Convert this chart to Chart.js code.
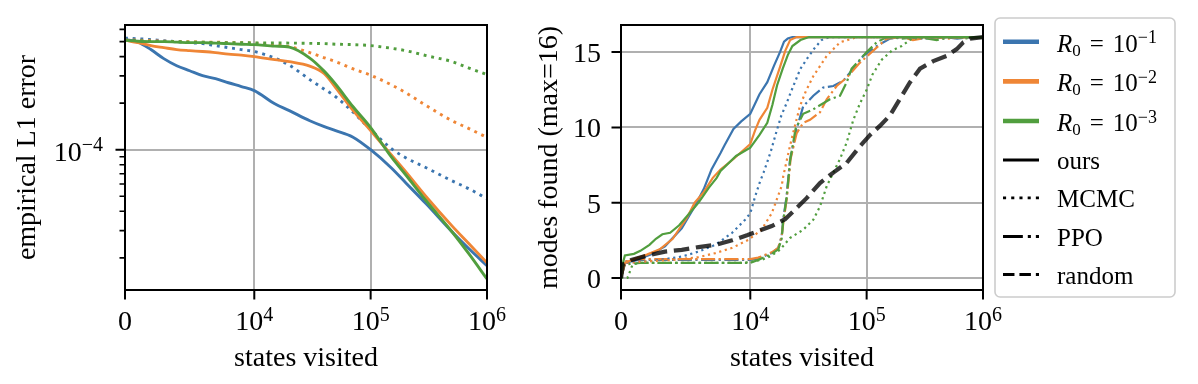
<!DOCTYPE html>
<html>
<head>
<meta charset="utf-8">
<script src="https://cdn.jsdelivr.net/npm/chart.js@4.4.1/dist/chart.umd.min.js"></script>
<style>
  body { margin: 0; background: #fff; width: 1198px; height: 384px; overflow: hidden; position: relative; }
  #left { position: absolute; left: 0; top: 0; width: 520px; height: 384px; }
  #right { position: absolute; left: 520px; top: 0; width: 678px; height: 384px; }
</style>
</head>
<body>
<div id="left"><canvas id="errChart"></canvas></div>
<div id="right"><canvas id="modesChart"></canvas></div>
<script>
// colours for R0 = 1e-1, 1e-2, 1e-3
const BLUE = '#3b75af', ORANGE = '#ef8636', GREEN = '#519e3e';
const SERIF = '"Liberation Serif", "Times New Roman", "DejaVu Serif", serif';

// x axis (states visited), symlog with linear part below 1e4
const linThresh = 1e4;
const xTickVals = [0, 1e4, 1e5, 1e6];
const xTickExp = ['', '4', '5', '6'];

// left panel: empirical L1 error, shared x grid
const statesL = [0, 1000, 2000, 3000, 4000, 5000, 6000, 7000, 8000, 9000, 10000, 15000, 20000,
  30000, 40000, 50000, 70000, 100000, 150000, 200000, 300000, 500000, 700000, 1000000];
const errOursR1 = [5.15e-4, 4.96e-4, 4.44e-4, 3.88e-4, 3.49e-4, 3.24e-4, 3.01e-4, 2.88e-4, 2.71e-4, 2.56e-4,
  2.41e-4, 1.98e-4, 1.79e-4, 1.54e-4, 1.41e-4, 1.33e-4, 1.21e-4, 1.0e-4, 7.65e-5, 6.12e-5, 4.47e-5, 2.95e-5, 2.29e-5, 1.78e-5];
const errOursR2 = [5.11e-4, 4.92e-4, 4.71e-4, 4.57e-4, 4.44e-4, 4.37e-4, 4.31e-4, 4.24e-4, 4.15e-4, 4.09e-4,
  4.0e-4, 3.82e-4, 3.71e-4, 3.47e-4, 3.10e-4, 2.52e-4, 1.81e-4, 1.33e-4, 9.28e-5, 7.21e-5, 4.97e-5, 3.22e-5, 2.47e-5, 1.86e-5];
const errOursR3 = [5.09e-4, 5.03e-4, 5.0e-4, 5.0e-4, 4.96e-4, 4.92e-4, 4.92e-4, 4.89e-4, 4.85e-4, 4.81e-4,
  4.78e-4, 4.67e-4, 4.60e-4, 3.91e-4, 3.21e-4, 2.65e-4, 1.91e-4, 1.39e-4, 9.01e-5, 6.89e-5, 4.68e-5, 2.95e-5, 2.12e-5, 1.46e-5];
const errMcmcR1 = [5.26e-4, 5.22e-4, 5.15e-4, 5.07e-4, 5.0e-4, 4.92e-4, 4.85e-4, 4.71e-4, 4.57e-4, 4.44e-4,
  4.31e-4, 3.91e-4, 3.52e-4, 2.84e-4, 2.46e-4, 2.20e-4, 1.76e-4, 1.35e-4, 1.02e-4, 8.88e-5, 7.65e-5, 6.30e-5, 5.59e-5, 4.82e-5];
const errMcmcR2 = [5.15e-4, 5.11e-4, 5.07e-4, 5.03e-4, 5.0e-4, 5.0e-4, 4.96e-4, 4.96e-4, 4.92e-4, 4.92e-4,
  4.89e-4, 4.74e-4, 4.64e-4, 4.24e-4, 3.93e-4, 3.71e-4, 3.34e-4, 3.03e-4, 2.63e-4, 2.34e-4, 1.93e-4, 1.54e-4, 1.37e-4, 1.20e-4];
const errMcmcR3 = [5.15e-4, 5.07e-4, 5.03e-4, 5.0e-4, 5.0e-4, 4.96e-4, 4.96e-4, 4.92e-4, 4.92e-4, 4.92e-4,
  4.90e-4, 4.90e-4, 4.89e-4, 4.87e-4, 4.85e-4, 4.81e-4, 4.78e-4, 4.71e-4, 4.53e-4, 4.37e-4, 4.06e-4, 3.71e-4, 3.37e-4, 3.06e-4];
const errMinorTicks = [2e-5, 3e-5, 4e-5, 5e-5, 6e-5, 7e-5, 8e-5, 9e-5, 2e-4, 3e-4, 4e-4, 5e-4, 6e-4];

// right panel: modes found, [states, modes]
const modesOursR1 = [[0,0],[300,1.0],[1000,1.15],[2300,1.55],[3400,2.1],[4700,3.3],[5700,4.75],[6400,5.9],[7000,7.2],
  [7700,8.3],[8000,8.8],[8700,9.9],[9300,10.4],[10000,10.9],[12000,12.2],[14000,13.0],[16000,14.1],[18000,15.0],
  [19500,15.7],[21000,15.9],[23000,16],[1000000,16]];
const modesOursR2 = [[0,0],[300,1.0],[1000,1.25],[2000,1.55],[3000,1.9],[4000,2.6],[5100,4.0],[5700,5.0],[6400,5.7],
  [7100,6.65],[7700,7.2],[8700,7.9],[10000,8.9],[11000,9.8],[12000,10.5],[14000,11.3],[15500,12.5],[18000,14.0],
  [20000,15.1],[22000,15.8],[25000,16],[1000000,16]];
const modesOursR3 = [[0,0],[150,1.0],[300,1.5],[1000,1.6],[1500,1.8],[2200,2.2],[2700,2.6],[3200,2.9],[3800,3.0],
  [4500,3.5],[5300,4.3],[6000,5.0],[6800,6.0],[7400,6.65],[7700,7.1],[8900,8.1],[10000,8.65],[12000,9.5],[14000,10.3],
  [15500,11.5],[17000,12.8],[19000,13.9],[21000,14.8],[23000,15.4],[27000,15.8],[32000,16],[1000000,16]];
const modesMcmcR1 = [[0,0],[300,1.0],[2100,1.1],[3400,1.25],[4700,1.42],[6000,1.75],[7300,2.2],[8600,3.0],[9600,3.87],
  [10000,4.3],[11000,5.4],[12000,6.3],[13000,7.0],[14000,7.7],[15000,8.4],[16900,9.8],[18500,10.8],[20500,11.6],
  [23000,12.6],[27000,13.9],[31000,14.6],[36000,15.3],[41000,15.8],[48000,16],[1000000,16]];
const modesMcmcR2 = [[0,0],[300,1.0],[2000,1.1],[4000,1.2],[6000,1.38],[7300,1.65],[8600,2.0],[9850,2.53],[12500,3.2],
  [15300,4.3],[18600,6.1],[19200,6.75],[21900,8.75],[24000,10.0],[26700,11.4],[30000,12.4],[34800,13.4],[45400,14.75],
  [59000,15.65],[83000,16],[1000000,16]];
const modesMcmcR3 = [[0,0],[500,0],[900,0.9],[1500,1.0],[9500,1.0],[12500,1.2],[15000,1.45],[18000,1.87],[21900,2.65],
  [28500,3.2],[34800,3.87],[39700,4.75],[45400,6.1],[51700,7.0],[59000,7.9],[67400,9.0],[76800,10.5],[87700,11.6],
  [100000,12.5],[112000,13.5],[135000,14.5],[165000,15.1],[200000,15.4],[245000,15.9],[350000,16],[1000000,16]];
const modesPpoR1 = [[0,0],[300,1.1],[1500,1.2],[10000,1.2],[11700,1.3],[15300,1.65],[17400,2.0],[18600,2.75],[19200,3.9],
  [20500,5.4],[22000,7.9],[25000,9.9],[28500,11.4],[34800,12.1],[42400,12.65],[51700,12.75],[63000,13.1],[76800,13.9],
  [93500,14.75],[122000,15.4],[159000,15.9],[200000,16],[300000,15.9],[450000,16],[600000,15.9],[800000,16],[1000000,16]];
const modesPpoR2 = [[0,0],[300,1.1],[1500,1.25],[10000,1.25],[11700,1.35],[15300,1.7],[17400,2.0],[18600,2.75],[19400,3.9],
  [20700,5.4],[22200,7.9],[25000,9.6],[28500,10.3],[32600,10.5],[39700,11.0],[45400,11.87],[55300,12.75],[67400,13.3],
  [87700,14.3],[114000,15.1],[149000,15.9],[200000,16],[250000,15.8],[350000,16],[500000,15.9],[700000,16],[1000000,16]];
const modesPpoR3 = [[0,0],[300,0.9],[1500,1.0],[10000,1.0],[11700,1.2],[15300,1.6],[17400,1.9],[18600,2.6],[19200,3.8],
  [20500,5.3],[22000,7.8],[24500,9.9],[28500,10.9],[34800,11.2],[48400,11.87],[59000,12.1],[67400,13.0],[74300,13.9],
  [87700,14.5],[100000,15.0],[122000,15.65],[149000,16],[200000,15.9],[280000,16],[400000,15.8],[550000,16],[750000,15.9],[1000000,16]];
const modesRandom = [[0,0],[150,0.9],[800,1.2],[2100,1.5],[3400,1.75],[4700,1.87],[6000,2.05],[7300,2.2],[8600,2.5],
  [9800,2.85],[12500,3.2],[15300,3.45],[19900,3.9],[24000,4.5],[30500,5.3],[39700,6.3],[51700,7.0],[67400,7.65],
  [87700,8.75],[107000,9.5],[130000,10.1],[159000,10.8],[193500,11.9],[236000,13.0],[287500,13.9],[374000,14.4],
  [488000,14.75],[595000,15.2],[677000,15.65],[773000,15.9],[1000000,16]];
const modesTicks = [0, 5, 10, 15];

// legend
const legendColors = [BLUE, ORANGE, GREEN];
const legendExp = ['\u22121', '\u22122', '\u22123'];
const legendMethods = ['ours', 'MCMC', 'PPO', 'random'];

// matplotlib-like symlog axis
class SymlogScale extends Chart.LinearScale {
  static id = 'symlog';
  static defaults = {};
  buildTicks() {
    return xTickVals.map(v => ({ value: v }));
  }
  _sym(v) {
    const a = 1 / (1 - 1 / 10);
    return v <= linThresh ? v / linThresh * a : a + Math.log10(v / linThresh);
  }
  getPixelForValue(v) {
    const lo = this._sym(this.min), hi = this._sym(this.max);
    return this.getPixelForDecimal((this._sym(v) - lo) / (hi - lo));
  }
  getValueForPixel(p) {
    const a = 1 / (1 - 1 / 10);
    const lo = this._sym(this.min), hi = this._sym(this.max);
    const s = lo + this.getDecimalForPixel(p) * (hi - lo);
    return s <= a ? s / a * linThresh : linThresh * Math.pow(10, s - a);
  }
}
Chart.register(SymlogScale);

function drawPow(ctx, base, exp, x, baseline, align, size) {
  const es = Math.round(size * 0.7);
  ctx.font = size + 'px ' + SERIF;
  const wb = ctx.measureText(base).width;
  ctx.font = es + 'px ' + SERIF;
  const we = exp ? ctx.measureText(exp).width : 0;
  const w = wb + we;
  const x0 = align === 'center' ? x - w / 2 : align === 'right' ? x - w : x;
  ctx.textAlign = 'left';
  ctx.textBaseline = 'alphabetic';
  ctx.font = size + 'px ' + SERIF;
  ctx.fillText(base, x0, baseline);
  if (exp) {
    ctx.font = es + 'px ' + SERIF;
    ctx.fillText(exp, x0 + wb, baseline - size * 0.33);
  }
  return x0 + w;
}

// frame, tick marks, tick labels and titles in matplotlib style
const mplAxes = {
  id: 'mplAxes',
  afterDatasetsDraw(chart, args, o) {
    const { ctx, chartArea: a } = chart;
    const xs = chart.scales.x, ys = chart.scales.y;
    ctx.save();
    ctx.strokeStyle = '#000';
    ctx.fillStyle = '#000';
    ctx.lineWidth = 2;
    ctx.strokeRect(a.left, a.top, a.right - a.left, a.bottom - a.top);
    ctx.beginPath();
    xTickVals.forEach(v => {
      const px = xs.getPixelForValue(v);
      ctx.moveTo(px, a.bottom); ctx.lineTo(px, a.bottom + 9.5);
    });
    o.yTicks.forEach(t => {
      const py = ys.getPixelForValue(t.v);
      ctx.moveTo(a.left, py); ctx.lineTo(a.left - 9.5, py);
    });
    ctx.stroke();
    if (o.yMinor) {
      ctx.lineWidth = 1.6;
      ctx.beginPath();
      o.yMinor.forEach(v => {
        const py = ys.getPixelForValue(v);
        ctx.moveTo(a.left, py); ctx.lineTo(a.left - 5.5, py);
      });
      ctx.stroke();
    }
    xTickVals.forEach((v, i) => {
      drawPow(ctx, i === 0 ? '0' : '10', xTickExp[i], xs.getPixelForValue(v), a.bottom + 40, 'center', 28);
    });
    o.yTicks.forEach(t => {
      drawPow(ctx, t.b, t.e, a.left - o.yLabelGap, ys.getPixelForValue(t.v) + (t.e ? 11 : 10), 'right', 28);
    });
    ctx.font = '28px ' + SERIF;
    ctx.textAlign = 'center';
    ctx.textBaseline = 'alphabetic';
    ctx.fillText('states visited', (a.left + a.right) / 2, 366);
    ctx.save();
    ctx.translate(o.yTitleX, (a.top + a.bottom) / 2);
    ctx.rotate(-Math.PI / 2);
    ctx.fillText(o.yTitle, 0, 0);
    ctx.restore();
    ctx.restore();
  }
};

const methodDash = {
  ours: [],
  MCMC: [1, 1.65],
  PPO: [6.4, 1.6, 1, 1.6],
  random: [3.7, 1.6]
};
function scaledDash(m, lw) { return methodDash[m].map(d => d * lw); }

const mplLegend = {
  id: 'mplLegend',
  afterDraw(chart) {
    const ctx = chart.ctx;
    const bx = 475, by = 18, bw = 180, bh = 279;
    ctx.save();
    ctx.fillStyle = 'rgba(255,255,255,0.8)';
    ctx.strokeStyle = '#cccccc';
    ctx.lineWidth = 1.6;
    ctx.beginPath();
    ctx.roundRect(bx, by, bw, bh, 5);
    ctx.fill();
    ctx.stroke();
    const rows = [41.7, 81.4, 121, 160, 197.8, 236.5, 274.5];
    const hx0 = 483, hx1 = 519, tx = 537;
    legendColors.forEach((c, i) => {
      const y = rows[i];
      ctx.strokeStyle = c; ctx.lineWidth = 4.6; ctx.setLineDash([]);
      ctx.beginPath(); ctx.moveTo(hx0, y); ctx.lineTo(hx1, y); ctx.stroke();
      ctx.fillStyle = '#000';
      ctx.textAlign = 'left'; ctx.textBaseline = 'alphabetic';
      ctx.font = 'italic 25px ' + SERIF;
      ctx.fillText('R', tx, y + 10);
      let x = tx + ctx.measureText('R').width;
      ctx.font = '17px ' + SERIF;
      ctx.fillText('0', x, y + 14);
      x += ctx.measureText('0').width + 9;
      ctx.font = '25px ' + SERIF;
      ctx.fillText('=', x, y + 10);
      x += ctx.measureText('=').width + 9;
      drawPow(ctx, '10', legendExp[i], x, y + 10, 'left', 25);
    });
    legendMethods.forEach((m, i) => {
      const y = rows[3 + i];
      ctx.strokeStyle = '#000'; ctx.lineWidth = 2.8; ctx.setLineDash(scaledDash(m, 3.1));
      ctx.beginPath(); ctx.moveTo(hx0, y); ctx.lineTo(hx1, y); ctx.stroke();
      ctx.setLineDash([]);
      ctx.fillStyle = '#000';
      ctx.font = '25px ' + SERIF;
      ctx.textAlign = 'left'; ctx.textBaseline = 'alphabetic';
      ctx.fillText(m, tx, y + 9);
    });
    ctx.restore();
  }
};

function lineDs(label, data, color, lw, method, order, smooth) {
  return {
    label, data,
    borderColor: color,
    borderWidth: lw,
    borderDash: scaledDash(method, lw),
    borderCapStyle: 'butt',
    pointRadius: 0,
    fill: false,
    tension: 0,
    cubicInterpolationMode: smooth ? 'monotone' : 'default',
    order
  };
}
const onGrid = vals => statesL.map((s, i) => ({ x: s, y: vals[i] }));
const fromPairs = pts => pts.map(p => ({ x: p[0], y: p[1] }));

const gridOpts = { color: '#b0b0b0', lineWidth: 2, drawTicks: false };

new Chart(document.getElementById('errChart'), {
  type: 'line',
  data: {
    datasets: [
      lineDs('R0=1e-1 MCMC', onGrid(errMcmcR1), BLUE, 2.9, 'MCMC', 6, true),
      lineDs('R0=1e-2 MCMC', onGrid(errMcmcR2), ORANGE, 2.9, 'MCMC', 5, true),
      lineDs('R0=1e-3 MCMC', onGrid(errMcmcR3), GREEN, 2.9, 'MCMC', 4, true),
      lineDs('R0=1e-1 ours', onGrid(errOursR1), BLUE, 2.9, 'ours', 3, true),
      lineDs('R0=1e-2 ours', onGrid(errOursR2), ORANGE, 2.9, 'ours', 2, true),
      lineDs('R0=1e-3 ours', onGrid(errOursR3), GREEN, 2.9, 'ours', 1, true)
    ]
  },
  options: {
    animation: false,
    responsive: true,
    maintainAspectRatio: false,
    devicePixelRatio: 1,
    events: [],
    layout: { padding: { left: 125, right: 33, top: 25, bottom: 94 } },
    plugins: {
      legend: { display: false },
      tooltip: { enabled: false },
      mplAxes: {
        yTicks: [{ v: 1e-4, b: '10', e: '\u22124' }],
        yMinor: errMinorTicks,
        yLabelGap: 22,
        yTitle: 'empirical L1 error',
        yTitleX: 35
      }
    },
    scales: {
      x: {
        type: 'symlog', min: 0, max: 1e6,
        grid: gridOpts, border: { display: false },
        ticks: { display: false }
      },
      y: {
        type: 'logarithmic', min: 1.24e-5, max: 6.4e-4,
        afterBuildTicks: s => { s.ticks = [{ value: 1e-4, major: true }]; },
        grid: gridOpts, border: { display: false },
        ticks: { display: false }
      }
    }
  },
  plugins: [mplAxes]
});

new Chart(document.getElementById('modesChart'), {
  type: 'line',
  data: {
    datasets: [
      lineDs('R0=1e-1 PPO', fromPairs(modesPpoR1), BLUE, 2.2, 'PPO', 10),
      lineDs('R0=1e-2 PPO', fromPairs(modesPpoR2), ORANGE, 2.2, 'PPO', 9),
      lineDs('R0=1e-3 PPO', fromPairs(modesPpoR3), GREEN, 2.2, 'PPO', 8),
      lineDs('R0=1e-1 MCMC', fromPairs(modesMcmcR1), BLUE, 2.2, 'MCMC', 7),
      lineDs('R0=1e-2 MCMC', fromPairs(modesMcmcR2), ORANGE, 2.2, 'MCMC', 6),
      lineDs('R0=1e-3 MCMC', fromPairs(modesMcmcR3), GREEN, 2.2, 'MCMC', 5),
      lineDs('R0=1e-1 ours', fromPairs(modesOursR1), BLUE, 2.2, 'ours', 4),
      lineDs('R0=1e-2 ours', fromPairs(modesOursR2), ORANGE, 2.2, 'ours', 3),
      lineDs('R0=1e-3 ours', fromPairs(modesOursR3), GREEN, 2.2, 'ours', 2),
      lineDs('random', fromPairs(modesRandom), 'rgba(0,0,0,0.78)', 4.2, 'random', 1)
    ]
  },
  options: {
    animation: false,
    responsive: true,
    maintainAspectRatio: false,
    devicePixelRatio: 1,
    events: [],
    layout: { padding: { left: 101, right: 215, top: 25, bottom: 94 } },
    plugins: {
      legend: { display: false },
      tooltip: { enabled: false },
      mplAxes: {
        yTicks: modesTicks.map(v => ({ v, b: String(v), e: '' })),
        yLabelGap: 20,
        yTitle: 'modes found (max=16)',
        yTitleX: 37
      }
    },
    scales: {
      x: {
        type: 'symlog', min: 0, max: 1e6,
        grid: gridOpts, border: { display: false },
        ticks: { display: false }
      },
      y: {
        type: 'linear', min: -0.8, max: 16.8,
        afterBuildTicks: s => { s.ticks = modesTicks.map(v => ({ value: v })); },
        grid: gridOpts, border: { display: false },
        ticks: { display: false }
      }
    }
  },
  plugins: [mplAxes, mplLegend]
});
</script>
</body>
</html>
